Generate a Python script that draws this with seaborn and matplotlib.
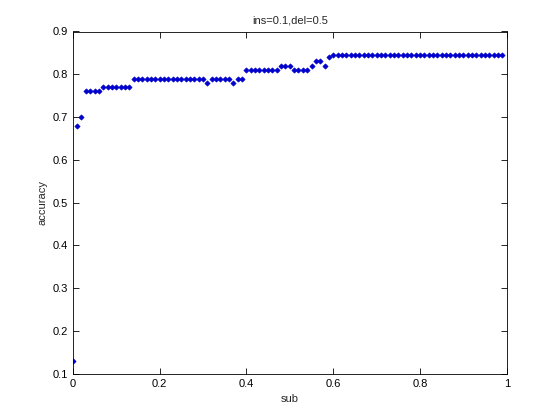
import numpy as np
import pandas as pd
import matplotlib
matplotlib.use("Agg")
import matplotlib.pyplot as plt
import seaborn as sns

# values
sub = np.round(np.arange(0, 1.0, 0.01), 2)
accuracy = [
    0.13, 0.68, 0.70, 0.76, 0.76, 0.76, 0.76, 0.77, 0.77, 0.77,
    0.77, 0.77, 0.77, 0.77, 0.79, 0.79, 0.79, 0.79, 0.79, 0.79,
    0.79, 0.79, 0.79, 0.79, 0.79, 0.79, 0.79, 0.79, 0.79, 0.79,
    0.79, 0.78, 0.79, 0.79, 0.79, 0.79, 0.79, 0.78, 0.79, 0.79,
    0.81, 0.81, 0.81, 0.81, 0.81, 0.81, 0.81, 0.81, 0.82, 0.82,
    0.82, 0.81, 0.81, 0.81, 0.81, 0.82, 0.83, 0.83, 0.82, 0.84,
    0.845, 0.845, 0.845, 0.845, 0.845, 0.845, 0.845, 0.845, 0.845, 0.845,
    0.845, 0.845, 0.845, 0.845, 0.845, 0.845, 0.845, 0.845, 0.845, 0.845,
    0.845, 0.845, 0.845, 0.845, 0.845, 0.845, 0.845, 0.845, 0.845, 0.845,
    0.845, 0.845, 0.845, 0.845, 0.845, 0.845, 0.845, 0.845, 0.845, 0.845,
]
title = "ins=0.1,del=0.5"

df = pd.DataFrame({"sub": sub, "accuracy": accuracy})

sns.set_style("ticks", {"xtick.direction": "in", "ytick.direction": "in"})
plt.rcParams["font.family"] = ["Liberation Sans", "DejaVu Sans"]

fig = plt.figure(figsize=(5.6, 4.2), dpi=100)
ax = fig.add_axes([0.13, 0.11, 0.775, 0.815])

sns.scatterplot(data=df, x="sub", y="accuracy", ax=ax, marker="D", s=7,
                color="#0000cc", edgecolor="#0000cc", linewidth=0.5)

ax.set_xlim(0, 1)
ax.set_ylim(0.1, 0.9)
ax.set_xticks([0, 0.2, 0.4, 0.6, 0.8, 1])
ax.set_xticklabels(["0", "0.2", "0.4", "0.6", "0.8", "1"])
ax.set_yticks(np.round(np.arange(0.1, 0.91, 0.1), 1))
ax.tick_params(labelsize=8, length=4, width=0.6, top=True, right=True,
               colors="black")
for sp in ax.spines.values():
    sp.set_visible(True)
    sp.set_linewidth(0.6)
    sp.set_color("black")

ax.set_title(title, fontsize=8)
ax.set_xlabel("sub", fontsize=8)
ax.set_ylabel("accuracy", fontsize=8)

fig.savefig("out.png", dpi=100)
